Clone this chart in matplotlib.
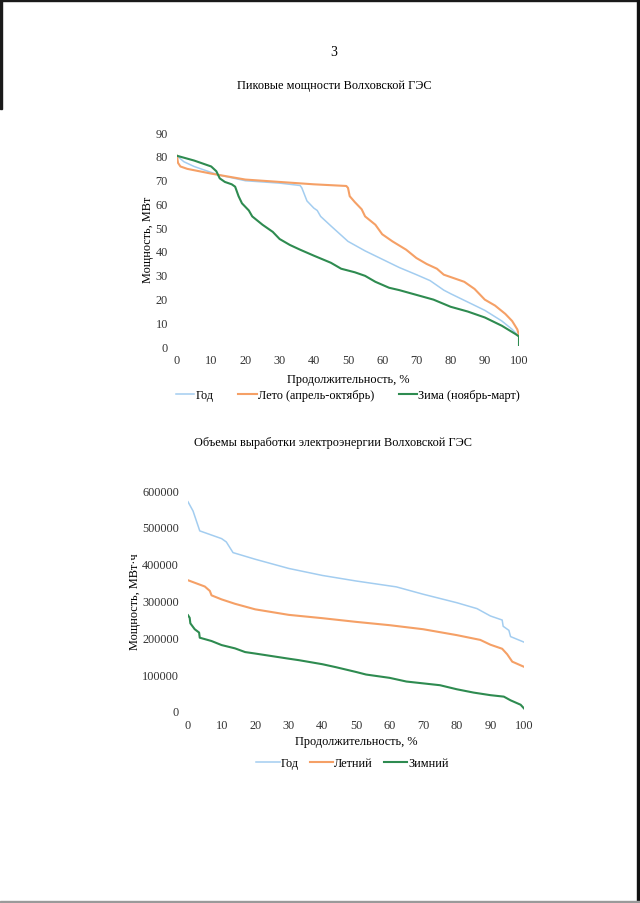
import matplotlib
matplotlib.use('Agg')
import matplotlib.pyplot as plt
from matplotlib.lines import Line2D
from matplotlib.patches import Rectangle

plt.rcParams['font.family'] = ['Liberation Serif', 'DejaVu Serif']

# --- chart 1: peak power duration curves, MW vs %
god_x = [0, 2, 5, 10, 12, 20, 30, 36, 36.5, 38, 40, 41, 42, 45, 50, 55, 60, 65, 70, 74, 78,
         80, 85, 90, 95, 98, 100]
god_y = [80, 77.5, 75.5, 73, 72, 69.5, 68.5, 67.5, 66.5, 61, 58, 57, 54.5, 50.5, 44, 40, 36.5,
         33, 30, 27.5, 23.5, 22, 18.5, 15, 10.5, 7, 4]

leto_x = [0, 0.3, 1, 3, 10, 20, 30, 40, 49.5, 50, 50.5, 52, 54, 55, 58, 60, 63, 67, 70, 73, 76,
          78, 80, 84, 87, 90, 93, 96, 98, 99.5, 100]
leto_y = [80, 77, 75.5, 74.5, 72.5, 70, 69, 68, 67.3, 66.5, 63, 60.5, 57.5, 54.5, 51, 47, 44,
          40.5, 37, 34.5, 32.5, 30, 29, 27, 24, 19.5, 17, 13.5, 10.5, 7, 4.5]

zima_x = [0, 5, 10, 11.5, 12.5, 14, 16, 17, 18, 19, 21, 22, 25, 28, 30, 33, 36, 40, 45, 48, 52,
          55, 58, 62, 65, 70, 75, 80, 85, 90, 95, 99, 100, 100]
zima_y = [80, 78, 75.5, 73.5, 70.5, 69, 68, 67, 63, 60, 57, 54.5, 51, 48, 45, 42.5, 40.5, 38,
          35, 32.5, 31, 29.5, 27, 24.5, 23.5, 21.5, 19.5, 16.5, 14.5, 12, 8.5, 5, 4, 0]

# --- chart 2: generation volumes, MWh vs %
god2_x = [0, 1.5, 3.5, 10, 11.4, 13.4, 20, 30, 40, 50, 62, 70, 80, 86, 90, 93.5, 93.8, 95.5,
          96, 100]
god2_y = [568000, 543000, 489000, 468000, 459000, 430000, 412000, 387000, 368000, 353000,
          337000, 317000, 294000, 278000, 258000, 247000, 230000, 219000, 202000, 187000]

let_x = [0, 5, 6.5, 7, 10, 14, 20, 30, 40, 50, 60, 70, 80, 87, 90, 93.5, 95, 96.5, 100]
let_y = [355000, 338000, 326000, 314000, 303000, 291000, 276000, 261000, 252000, 242000,
         233000, 222000, 206000, 193000, 180000, 169000, 154000, 134000, 120000]

zim_x = [0, 0.5, 0.7, 2, 3.3, 3.5, 7, 10, 14, 17, 20, 30, 33, 40, 44, 50, 53, 60, 65, 70, 75,
         80, 85, 90, 94, 96, 99, 100]
zim_y = [260000, 253000, 238000, 222000, 213000, 199000, 190000, 179000, 170000, 160000,
         156000, 142000, 138000, 127000, 119000, 106000, 99000, 90000, 80000, 75000, 70000,
         59000, 50000, 43000, 39000, 29000, 17000, 7000]

blue = '#a3cdf0'
orange = '#f5a066'
green = '#2e8b50'


def style_axes(ax):
    for s in ax.spines.values():
        s.set_visible(False)
    ax.tick_params(axis='x', length=0, labelsize=8.8, colors='#333333', pad=6)
    ax.tick_params(axis='y', length=0, labelsize=8.8, colors='#333333', pad=6.5)
    ax.set_xticks(range(0, 101, 10))


fig = plt.figure(figsize=(6.4, 9.04), dpi=100)

# dark edges left by the scanner
fig.patches.append(Rectangle((0, 1 - 2 / 904), 1, 2 / 904, transform=fig.transFigure,
                             color='#1a1a1a', zorder=10))
fig.patches.append(Rectangle((0, 1 - 110 / 904), 2 / 640, 110 / 904, transform=fig.transFigure,
                             color='#1a1a1a', zorder=10))
fig.patches.append(Rectangle((1 - 3 / 640, 0), 3 / 640, 1, transform=fig.transFigure,
                             color='#111111', zorder=10))
fig.patches.append(Rectangle((0, 0), 1, 2 / 904, transform=fig.transFigure,
                             color='#9a9a9a', zorder=10))

fig.text(0.522, 1 - 53 / 904, '3', ha='center', va='center', fontsize=10)

# chart 1
fig.text(0.522, 1 - 86 / 904, 'Пиковые мощности Волховской ГЭС', ha='center', va='center',
         fontsize=8.8)
ax1 = fig.add_axes([177 / 640, 1 - 347 / 904, (519 - 177) / 640, (347 - 133) / 904])
ax1.plot(god_x, god_y, color=blue, lw=1.1)
ax1.plot(leto_x, leto_y, color=orange, lw=1.5)
ax1.plot(zima_x, zima_y, color=green, lw=1.5)
ax1.set_xlim(0, 100)
ax1.set_ylim(0, 90)
ax1.set_yticks(range(0, 91, 10))
style_axes(ax1)
ax1.set_ylabel('Мощность, МВт', fontsize=8.8, labelpad=1)
ax1.set_xlabel('Продолжительность, %', fontsize=8.8, labelpad=5)
h1 = [Line2D([], [], color=blue, lw=1.1), Line2D([], [], color=orange, lw=1.5),
      Line2D([], [], color=green, lw=1.5)]
ax1.legend(h1, ['Год', 'Лето (апрель-октябрь)', 'Зима (ноябрь-март)'], loc='upper center',
           bbox_to_anchor=(0.5, -0.15), ncol=3, frameon=False, fontsize=8.8,
           handlelength=1.5, columnspacing=2.0, handletextpad=0.1)

# chart 2
fig.text(0.52, 1 - 443 / 904, 'Объемы выработки электроэнергии Волховской ГЭС', ha='center',
         va='center', fontsize=8.8)
ax2 = fig.add_axes([188 / 640, 1 - 712 / 904, (524 - 188) / 640, (712 - 491) / 904])
ax2.plot(god2_x, god2_y, color=blue, lw=1.1)
ax2.plot(let_x, let_y, color=orange, lw=1.5)
ax2.plot(zim_x, zim_y, color=green, lw=1.5)
ax2.set_xlim(0, 100)
ax2.set_ylim(0, 600000)
ax2.set_yticks(range(0, 600001, 100000))
style_axes(ax2)
ax2.set_ylabel('Мощность, МВт·ч', fontsize=8.8, labelpad=1)
ax2.set_xlabel('Продолжительность, %', fontsize=8.8, labelpad=3)
h2 = [Line2D([], [], color=blue, lw=1.1), Line2D([], [], color=orange, lw=1.5),
      Line2D([], [], color=green, lw=1.5)]
ax2.legend(h2, ['Год', 'Летний', 'Зимний'], loc='upper center', bbox_to_anchor=(0.49, -0.16),
           ncol=3, frameon=False, fontsize=8.8, handlelength=1.9, columnspacing=0.9,
           handletextpad=0.1)

fig.savefig('out.png', dpi=100)
